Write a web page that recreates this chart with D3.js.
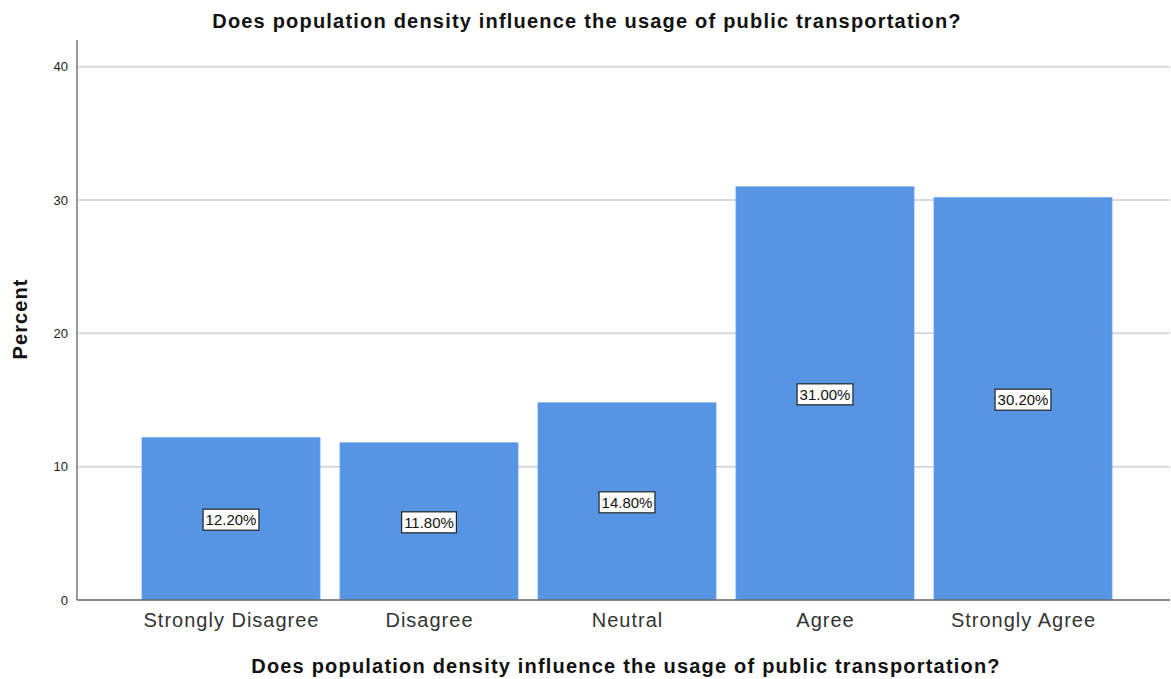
<!DOCTYPE html>
<html>
<head>
<meta charset="utf-8">
<script src="https://cdn.jsdelivr.net/npm/d3@7"></script>
<style>
  html, body { margin: 0; padding: 0; background: #fff; }
  svg { display: block; font-family: "Liberation Sans", Arial, sans-serif; }
</style>
</head>
<body>
<svg id="chart" width="1171" height="679"></svg>
<script>
// Survey responses and their percentages
const categories = ["Strongly Disagree", "Disagree", "Neutral", "Agree", "Strongly Agree"];
const percents = [12.2, 11.8, 14.8, 31.0, 30.2];
const yTicks = [0, 10, 20, 30, 40];
const title = "Does population density influence the usage of public transportation?";

const svg = d3.select("#chart");
const plot = { left: 77, right: 1170, top: 40, bottom: 600 };

const y = d3.scaleLinear().domain([0, 42]).range([plot.bottom, plot.top]);
const x = d3.scaleBand()
  .domain(categories)
  .range([132, 1122])
  .paddingInner(0.1)
  .paddingOuter(0.05);

// Horizontal gridlines
svg.append("g")
  .selectAll("line")
  .data(yTicks.filter(d => d > 0))
  .join("line")
  .attr("x1", plot.left + 1)
  .attr("x2", plot.right)
  .attr("y1", d => y(d))
  .attr("y2", d => y(d))
  .attr("stroke", "#cfcfcf")
  .attr("stroke-width", 1.5);

// Y axis
const yAxis = svg.append("g")
  .attr("transform", `translate(${plot.left},0)`)
  .call(d3.axisLeft(y).tickValues(yTicks).tickSize(0).tickPadding(9));
yAxis.select(".domain").remove();
yAxis.selectAll("text")
  .attr("font-size", 13)
  .attr("fill", "#222")
  .attr("font-family", "Liberation Sans, Arial, sans-serif");

svg.append("line")
  .attr("x1", plot.left).attr("x2", plot.left)
  .attr("y1", plot.top).attr("y2", plot.bottom)
  .attr("stroke", "#777").attr("stroke-width", 1.5);

// Bars
svg.append("g")
  .selectAll("rect")
  .data(categories)
  .join("rect")
  .attr("x", d => x(d))
  .attr("width", x.bandwidth())
  .attr("y", (d, i) => y(percents[i]))
  .attr("height", (d, i) => y(0) - y(percents[i]))
  .attr("fill", "#5595e4")
  .attr("stroke", "#7fb0ec")
  .attr("stroke-width", 0.6);

// X axis line
svg.append("line")
  .attr("x1", plot.left).attr("x2", plot.right)
  .attr("y1", plot.bottom).attr("y2", plot.bottom)
  .attr("stroke", "#666").attr("stroke-width", 1.5);

// X axis labels
const xAxis = svg.append("g")
  .attr("transform", `translate(0,${plot.bottom})`)
  .call(d3.axisBottom(x).tickSize(0).tickPadding(13));
xAxis.select(".domain").remove();
xAxis.selectAll("text")
  .attr("font-size", 20)
  .attr("letter-spacing", 1)
  .attr("dx", 0.5)
  .attr("fill", "#333")
  .attr("font-family", "Liberation Sans, Arial, sans-serif");

// Value labels in boxes at bar mid-height
const labels = svg.append("g")
  .selectAll("g")
  .data(categories)
  .join("g")
  .attr("transform", (d, i) => `translate(${x(d) + x.bandwidth() / 2},${y(percents[i] / 2) + 1})`);

labels.append("text")
  .attr("text-anchor", "middle")
  .attr("dy", "0.36em")
  .attr("font-size", 15)
  .attr("fill", "#111")
  .text((d, i) => percents[i].toFixed(2) + "%")
  .each(function () {
    const b = this.getBBox();
    d3.select(this.parentNode).insert("rect", "text")
      .attr("x", b.x - 2.5)
      .attr("y", -10.5)
      .attr("width", b.width + 5)
      .attr("height", 21)
      .attr("fill", "#fff")
      .attr("stroke", "#222")
      .attr("stroke-width", 1.2);
  });

// Titles
svg.append("text")
  .attr("x", 587).attr("y", 28)
  .attr("text-anchor", "middle")
  .attr("font-size", 20).attr("font-weight", "bold")
  .attr("letter-spacing", 1.2)
  .attr("fill", "#111")
  .text(title);

svg.append("text")
  .attr("x", 626).attr("y", 673)
  .attr("text-anchor", "middle")
  .attr("font-size", 20).attr("font-weight", "bold")
  .attr("letter-spacing", 1.2)
  .attr("fill", "#111")
  .text(title);

svg.append("text")
  .attr("transform", `translate(27,319) rotate(-90)`)
  .attr("text-anchor", "middle")
  .attr("font-size", 20).attr("font-weight", "bold")
  .attr("letter-spacing", 1.1)
  .attr("fill", "#111")
  .text("Percent");
</script>
</body>
</html>
